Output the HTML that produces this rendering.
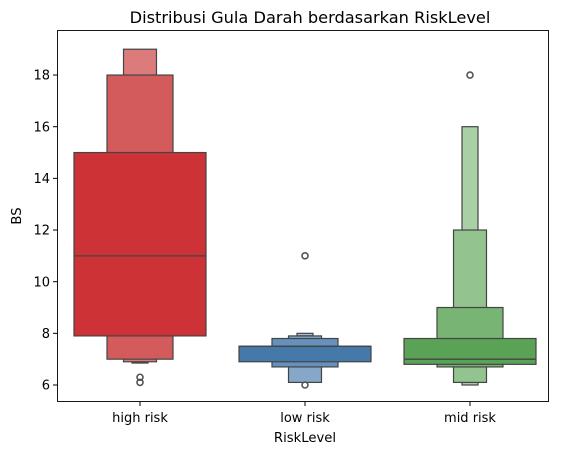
<!DOCTYPE html>
<html><head><meta charset="utf-8"><style>body{margin:0;background:#fff}svg{font-family:"DejaVu Sans","Liberation Sans",sans-serif}</style></head>
<body>
<svg id="c" width="563" height="455" xmlns="http://www.w3.org/2000/svg">
<text x="310" y="23" font-size="16.2" text-anchor="middle">Distribusi Gula Darah berdasarkan RiskLevel</text>
<rect x="57.5" y="30.5" width="491" height="371" fill="none" stroke="#000" stroke-width="0.9"/>
<g id="marks"></g>
<g id="axes"></g>
<text x="305" y="442" font-size="13.2" text-anchor="middle">RiskLevel</text>
<text transform="translate(21,216) rotate(-90)" font-size="13.2" text-anchor="middle">BS</text>
</svg>
<script>
const categories=["high risk","low risk","mid risk"];
const medians=[11,7.5,7.0];
const boxLows=[[7.9,7.0,6.9,6.85],[6.9,6.7,6.1,7.9],[6.8,6.7,6.1,6.0]];
const boxHighs=[[15,18,19,6.9],[7.5,7.8,7.9,8.0],[7.8,9.0,12,16]];
const outliers=[[6.3,6.1],[11,6.0],[18]];
const yTicks=[6,8,10,12,14,16,18];
const colors=[["#cd3336","#d35b5c","#dc7b7b","#e8a0a0"],["#4479a9","#6591bc","#85a7c8","#a5bdd6"],["#5aa256","#78b473","#93c38e","#a9cfa5"]];
const widths=[132,66,33,16];
const NS="http://www.w3.org/2000/svg";
function y(v){return 385-(v-6)*25.83;}
function x(i){return 140+i*165;}
const marks=document.getElementById('marks'),axes=document.getElementById('axes');
function mk(tag,attrs,parent){const e=document.createElementNS(NS,tag);for(const k in attrs)e.setAttribute(k,attrs[k]);parent.appendChild(e);return e;}
categories.forEach((c,i)=>{
  for(let l=3;l>=0;l--){
    const lo=boxLows[i][l],hi=boxHighs[i][l];
    const r=mk('rect',{x:x(i)-widths[l]/2,y:y(hi),width:widths[l],height:y(lo)-y(hi),fill:colors[i][l],stroke:'#444','stroke-width':1.2},marks);
    
    
  }
  const m=mk('line',{x1:x(i)-widths[0]/2,x2:x(i)+widths[0]/2,y1:y(medians[i]),y2:y(medians[i]),stroke:'#444','stroke-width':1.3},marks);
  
  
  outliers[i].forEach(o=>{
    const p=mk('circle',{cx:x(i),cy:y(o),r:3,fill:'none',stroke:'#555','stroke-width':1.6},marks);
    
    
  });
  mk('line',{x1:x(i),x2:x(i),y1:401.5,y2:406,stroke:'#000'},axes);
  const t=mk('text',{x:x(i),y:422,'font-size':13,'text-anchor':'middle'},axes);
  t.textContent=c;
  
  
});
yTicks.forEach(v=>{
  mk('line',{x1:53,x2:57.5,y1:y(v),y2:y(v),stroke:'#000'},axes);
  const t=mk('text',{x:50,y:y(v)+4.7,'font-size':13,'text-anchor':'end'},axes);
  t.textContent=v;
  
  
});
</script>
</body></html>
